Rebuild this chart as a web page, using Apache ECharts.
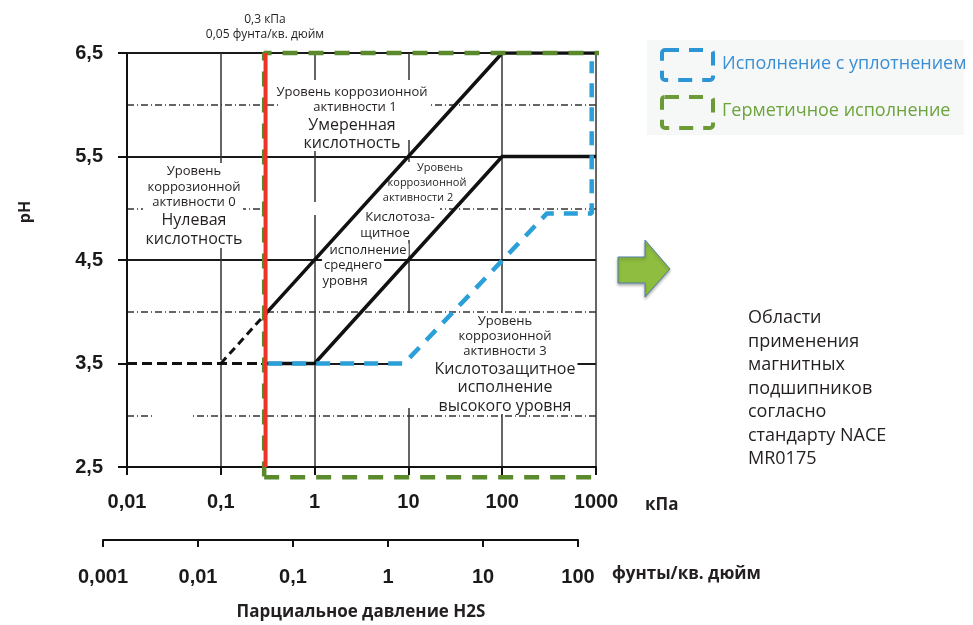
<!DOCTYPE html>
<html>
<head>
<meta charset="utf-8">
<script src="https://cdn.jsdelivr.net/npm/echarts@6/dist/echarts.min.js"></script>
<style>
  html, body { margin: 0; padding: 0; background: #fff; }
  #chart { width: 973px; height: 625px; }
</style>
</head>
<body>
<div id="chart"></div>
<script>
  // шкалы
  const phRange = [2.5, 6.5]
  const kpaRange = [0.01, 1000]
  const psiRange = [0.001, 100]

  // граница 0,3 кПа
  const redLimit = [[0.3, 2.5], [0.3, 6.5]]
  // линии уровней коррозионной активности
  const level0Dashed = [[0.01, 3.5], [0.3, 3.5]]
  const level1Dashed = [[0.1, 3.5], [0.3, 3.98]]
  const level1Line = [[0.3, 3.98], [100, 6.5], [1000, 6.5]]
  const level2Line = [[0.3, 3.5], [1, 3.5], [100, 5.5], [1000, 5.5]]
  // области исполнения
  const sealedZone = [[0.32, 3.5], [9, 3.5], [300, 4.95], [900, 4.95], [900, 6.42]]
  const hermeticZone = [[0.29, 2.4], [1150, 2.4], [1150, 6.5], [0.29, 6.5], [0.29, 2.4]]

  const txtFont = '"Open Sans", sans-serif'
  const numFont = '"Liberation Sans", Arial, sans-serif'
  const dark = '#231f20'

  const fmt = v => String(+(+v).toPrecision(4)).replace('.', ',')

  // подписи внутри графика: [текст, x, y, размер]
  const plotTexts = [
    ['Уровень коррозионной', 352, 92, 13], ['активности 1', 355, 107, 13],
    ['Умеренная', 352, 125, 16], ['кислотность', 352, 143, 16],
    ['Уровень', 194, 171, 13], ['коррозионной', 194, 187, 13], ['активности 0', 194, 202, 13],
    ['Нулевая', 194, 220, 16], ['кислотность', 194, 239, 16],
    ['Уровень', 440, 168, 11], ['коррозионной', 427, 183, 11], ['активности 2', 418, 198, 11],
    ['Кислотоза-', 400, 217, 13], ['щитное', 385, 233, 13], ['исполнение', 368, 250, 13],
    ['среднего', 353, 265, 13], ['уровня', 345, 281, 13],
    ['Уровень', 505, 321, 13], ['коррозионной', 505, 336, 13], ['активности 3', 505, 351, 13],
    ['Кислотозащитное', 505, 369, 16], ['исполнение', 505, 387, 16], ['высокого уровня', 505, 406, 16],
    ['0,3 кПа', 265, 20, 12], ['0,05 фунта/кв. дюйм', 265, 35, 12]
  ]
  // белые подложки под надписями
  const masks = [
    [278, 80, 150, 60], [143, 163, 100, 85], [382, 162, 84, 40], [267, 202, 173, 13],
    [388, 215, 28, 25], [400, 313, 170, 95], [155, 410, 37, 10], [128, 360, 133, 5]
  ]
  const noteLines = ['Области', 'применения', 'магнитных', 'подшипников', 'согласно', 'стандарту NACE', 'MR0175']

  let graphics = []
  masks.forEach(m => {
    graphics.push({ type: 'rect', z: 1, shape: { x: m[0], y: m[1], width: m[2], height: m[3] }, style: { fill: '#fff' } })
  })
  plotTexts.forEach(t => {
    graphics.push({
      type: 'text', z: 1, x: t[1], y: t[2],
      style: { text: t[0], fill: dark, font: t[3] + 'px ' + txtFont, align: 'center', verticalAlign: 'middle', backgroundColor: '#fff', padding: [0, 2] }
    })
  })
  // легенда
  graphics.push(
    { type: 'rect', shape: { x: 647, y: 40, width: 317, height: 95 }, style: { fill: '#f6f7f7' } },
    { type: 'rect', shape: { x: 662, y: 50, width: 51, height: 30, r: 3 }, style: { fill: 'none', stroke: '#2b95d6', lineWidth: 4, lineDash: [14, 10] } },
    { type: 'rect', shape: { x: 662, y: 97, width: 51, height: 31, r: 3 }, style: { fill: 'none', stroke: '#6b9a36', lineWidth: 4, lineDash: [14, 10] } },
    { type: 'text', x: 722, y: 64, style: { text: 'Исполнение с уплотнением', fill: '#3a8fd4', font: '18px ' + txtFont, verticalAlign: 'middle' } },
    { type: 'text', x: 722, y: 111, style: { text: 'Герметичное исполнение', fill: '#6ca43c', font: '18px ' + txtFont, verticalAlign: 'middle' } }
  )
  // стрелка
  graphics.push({
    type: 'polygon',
    shape: { points: [[618, 257], [645, 257], [645, 240], [670, 269], [645, 297], [645, 283], [618, 283]] },
    style: { fill: '#8fbd3f', stroke: '#4d7fa8', lineWidth: 1, shadowBlur: 3, shadowColor: 'rgba(0,0,0,0.3)', shadowOffsetY: 2 }
  })
  noteLines.forEach((s, i) => {
    graphics.push({ type: 'text', x: 748, y: 318 + i * 23.5, style: { text: s, fill: dark, font: '18px ' + txtFont, verticalAlign: 'middle' } })
  })
  // подписи осей
  graphics.push(
    { type: 'text', x: 645, y: 505, style: { text: 'кПа', fill: dark, font: 'bold 17px ' + txtFont, verticalAlign: 'middle' } },
    { type: 'text', x: 612, y: 574, style: { text: 'фунты/кв. дюйм', fill: dark, font: 'bold 17px ' + txtFont, verticalAlign: 'middle' } },
    { type: 'text', x: 361, y: 612, style: { text: 'Парциальное давление H2S', fill: dark, font: 'bold 17px ' + txtFont, align: 'center', verticalAlign: 'middle' } },
    { type: 'text', x: 25, y: 212, rotation: Math.PI / 2, style: { text: 'pH', fill: dark, font: 'bold 16px ' + txtFont, align: 'center', verticalAlign: 'middle' } }
  )

  const lineSeries = (data, color, width, type, z) => ({
    type: 'line', data: data, symbol: 'none', silent: true, z: z || 3,
    lineStyle: { color: color, width: width, type: type || 'solid' }
  })

  let chart = echarts.init(document.getElementById('chart'), null, { renderer: 'canvas' })
  chart.setOption({
    animation: false,
    backgroundColor: '#fff',
    grid: [
      { left: 127, top: 53, width: 469, height: 414 },
      { left: 103, top: 530, width: 475, height: 10 }
    ],
    xAxis: [
      {
        type: 'log', logBase: 10, min: kpaRange[0], max: kpaRange[1], gridIndex: 0,
        axisLine: { lineStyle: { color: '#111', width: 2 } },
        axisTick: { length: 8, lineStyle: { color: '#111', width: 2 } },
        axisLabel: { formatter: fmt, margin: 25, color: '#1a1a1a', fontSize: 20, fontWeight: 'bold', fontFamily: numFont },
        splitLine: { show: true, lineStyle: { color: '#333', width: 1.5 } }
      },
      {
        type: 'log', logBase: 10, min: psiRange[0], max: psiRange[1], gridIndex: 1,
        axisLine: { lineStyle: { color: '#111', width: 2 } },
        axisTick: { length: 7, lineStyle: { color: '#111', width: 2 } },
        axisLabel: { formatter: fmt, margin: 27, color: '#1a1a1a', fontSize: 20, fontWeight: 'bold', fontFamily: numFont },
        splitLine: { show: false }
      }
    ],
    yAxis: [
      {
        type: 'value', min: phRange[0], max: phRange[1], interval: 1, gridIndex: 0,
        axisLine: { show: true, lineStyle: { color: '#111', width: 2 } },
        axisTick: { show: true, length: 9, lineStyle: { color: '#111', width: 2 } },
        axisLabel: { formatter: fmt, margin: 24, color: '#1a1a1a', fontSize: 20, fontWeight: 'bold', fontFamily: numFont },
        splitLine: { show: true, lineStyle: { color: '#1a1a1a', width: 2 } },
        minorTick: { show: false, splitNumber: 2 },
        minorSplitLine: { show: true, lineStyle: { color: '#333', width: 1.5, type: [7, 3, 1, 3] } }
      },
      { type: 'value', gridIndex: 1, min: 0, max: 1, show: false }
    ],
    series: [
      Object.assign(lineSeries(hermeticZone, '#5a8a2c', 4.5, [15, 11], 4), { clip: false }),
      lineSeries(level0Dashed, '#111', 3, [10, 5]),
      lineSeries(level1Dashed, '#111', 3, [8, 5]),
      lineSeries(level1Line, '#111', 3.5),
      lineSeries(level2Line, '#111', 3.5),
      lineSeries(sealedZone, '#2a9fd8', 4.5, [14, 10], 5),
      lineSeries(redLimit, '#ec3326', 4, 'solid', 4)
    ],
    graphic: { elements: graphics }
  })
</script>
</body>
</html>
